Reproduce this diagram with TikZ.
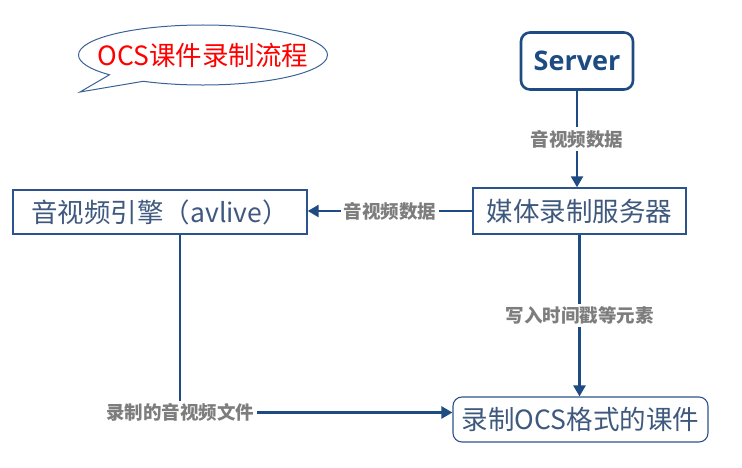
\documentclass[tikz,border=0pt]{standalone}
\usepackage{fontspec}
\newfontfamily\cjk{Noto Sans CJK SC}
\newfontfamily\serverschrift{Open Sans}
\usetikzlibrary{arrows.meta,shapes.callouts}
\definecolor{linienblau}{RGB}{30,76,130}
\definecolor{rahmenblau}{RGB}{44,84,140}
\definecolor{schriftblau}{RGB}{62,88,126}
\definecolor{blasenblau}{RGB}{58,98,150}
\definecolor{textgrau}{RGB}{125,125,125}

\begin{document}
\begin{tikzpicture}[x=1pt,y=1pt,>={Triangle[width=12pt,length=11pt]},
	kasten/.style={draw=rahmenblau,line width=1.4pt,text=schriftblau,
		font=\cjk\fontsize{26.5}{30}\selectfont,inner sep=0pt},
	pfeil/.style={->,draw=linienblau,line width=2.4pt},
	beschriftung/.style={fill=white,text=textgrau,
		font=\cjk\bfseries\fontsize{18.5}{22}\selectfont,inner sep=3pt}]
\useasboundingbox (0,0) rectangle (742,467);
\node[ellipse callout,draw=blasenblau,line width=1pt,fill=white,
	minimum width=249pt,minimum height=60pt,inner xsep=-55pt,inner ysep=0pt,
	callout absolute pointer={(80,375)},callout pointer arc=20,text=red,
	font=\cjk\fontsize{26.5}{30}\selectfont] (titel) at (203,412) {OCS课件录制流程};
\node[draw=linienblau,line width=2.6pt,rounded corners=9pt,
	minimum width=112pt,minimum height=57pt,text=linienblau,
	font=\serverschrift\bfseries\fontsize{27}{30}\selectfont] (server) at (577,406) {Server};
\node[kasten,minimum width=213pt,minimum height=46pt] (medien) at (579.5,256) {媒体录制服务器};
\node[kasten,minimum width=294pt,minimum height=44pt] (avlive) at (160,255) {音视频引擎（avlive）};
\node[kasten,line width=1.1pt,rounded corners=9pt,minimum width=255pt,minimum height=45pt]
	(kurs) at (580.5,47.5) {录制OCS格式的课件};
\draw[pfeil] (server) -- (server |- medien.north) node[midway,beschriftung] {音视频数据};
\draw[pfeil] (medien.west) -- (medien.west -| avlive.east) node[midway,beschriftung] {音视频数据};
\draw[pfeil] (medien) -- (medien |- kurs.north) node[midway,beschriftung] {写入时间戳等元素};
\draw[pfeil] ([xshift=20pt]avlive.south) |- ([yshift=7pt]kurs.west)
	node[pos=0.5,beschriftung] {录制的音视频文件};
\end{tikzpicture}
\end{document}
